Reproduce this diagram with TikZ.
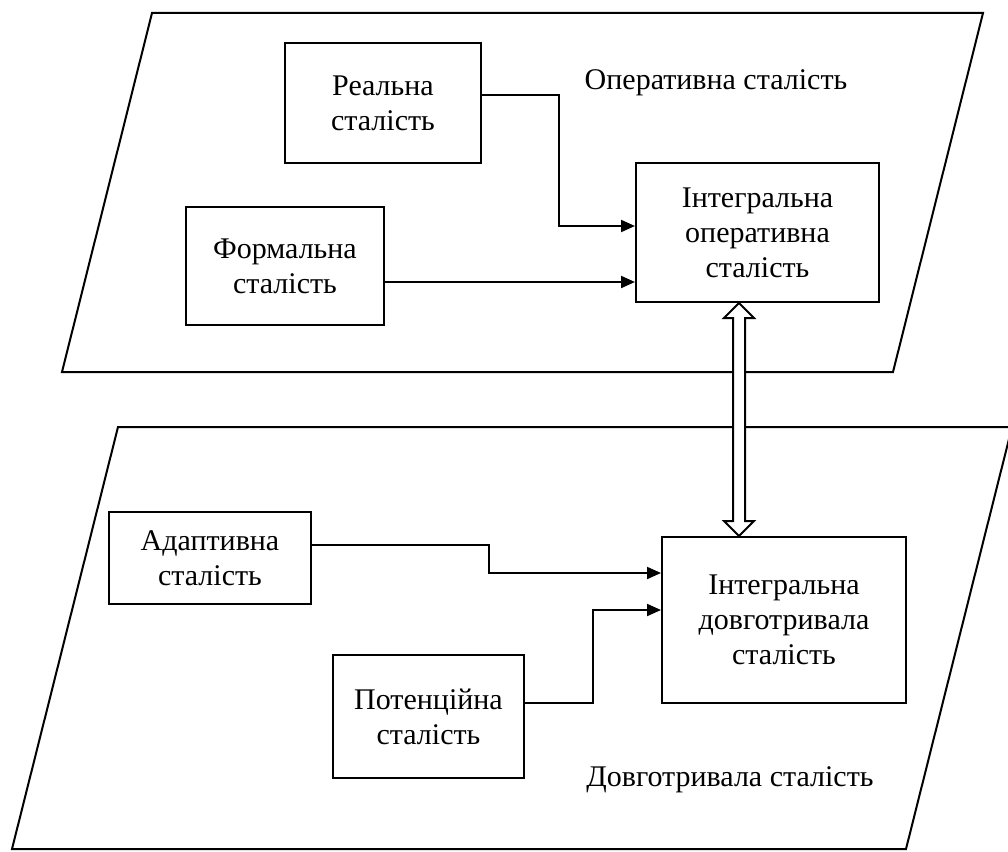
\documentclass[tikz,border=0pt]{standalone}
\usepackage{fontspec}
\setmainfont{Liberation Serif}
\usetikzlibrary{arrows.meta,calc}
\begin{document}
\begin{tikzpicture}[x=1pt,y=-1pt,
  box/.style={draw,line width=2pt,align=center,inner sep=0pt,
    font=\fontsize{30}{35}\selectfont},
  lbl/.style={inner sep=0pt,font=\fontsize{30}{35}\selectfont},
  plane/.style={draw,line width=2pt,line join=miter},
  arr/.style={line width=2pt,-{Triangle[length=14pt,width=12pt]}}]
\useasboundingbox (0,0) rectangle (1008,851);
% planes
\draw[plane] (152,13) -- (983,13) -- (893,372) -- (62,372) -- cycle;
\draw[plane] (118,427) -- (1012,427) -- (906,849) -- (12,849) -- cycle;
% boxes
\node[box,minimum width=196pt,minimum height=120pt] (real) at (383,103) {Реальна\\сталість};
\node[box,minimum width=198pt,minimum height=118pt] (formal) at (285,266) {Формальна\\сталість};
\node[box,minimum width=243pt,minimum height=139pt] (intop) at (757.5,232.5) {Інтегральна\\оперативна\\сталість};
\node[box,minimum width=202pt,minimum height=92pt] (adapt) at (210,558) {Адаптивна\\сталість};
\node[box,minimum width=191pt,minimum height=123pt] (potent) at (428.5,716.5) {Потенційна\\сталість};
\node[box,minimum width=244pt,minimum height=166pt] (intlong) at (784,620) {Інтегральна\\довготривала\\сталість};
% labels
\node[lbl] (lop) at (716,83) {Оперативна сталість};
\node[lbl] (llong) at (730,780) {Довготривала сталість};
% connectors
\draw[arr] (real.east |- 0,95) -| (559,226) -- (intop.west |- 0,226);
\draw[arr] (formal.east |- 0,282) -- (intop.west |- 0,282);
\draw[arr] (adapt.east |- 0,545) -| (489,573) -- (intlong.west |- 0,573);
\draw[arr] (potent.east |- 0,703) -| (593,610) -- (intlong.west |- 0,610);
% double hollow arrow
\coordinate (dt) at (intop.south -| 739,0);
\coordinate (db) at (intlong.north -| 739,0);
\draw[line width=2pt,fill=white,line join=miter]
  (dt) -- ++(15,15) -- ++(-9,0) |- ($(db)+(6,-15)$) -- ++(9,0) -- (db)
  -- ++(-15,-15) -- ++(9,0) |- ($(dt)+(-6,15)$) -- ++(-9,0) -- cycle;
\end{tikzpicture}
\end{document}
